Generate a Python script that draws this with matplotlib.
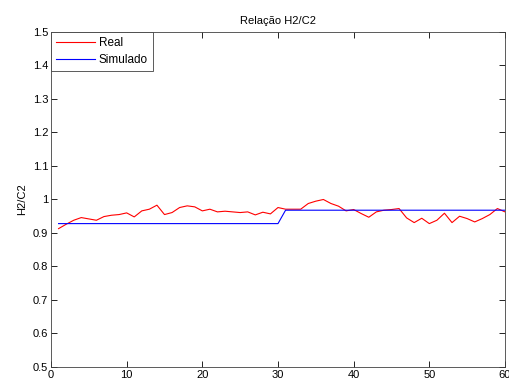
import matplotlib
matplotlib.use("Agg")
import matplotlib.pyplot as plt
import numpy as np

plt.rcParams['font.family'] = ['Liberation Sans', 'DejaVu Sans']

t = np.arange(1, 61)

real = [0.913, 0.926, 0.938, 0.946, 0.942, 0.938, 0.949, 0.953, 0.955, 0.960,
        0.948, 0.966, 0.971, 0.983, 0.955, 0.961, 0.976, 0.981, 0.978, 0.966,
        0.971, 0.963, 0.965, 0.963, 0.961, 0.963, 0.954, 0.962, 0.957, 0.976,
        0.971, 0.971, 0.971, 0.988, 0.995, 1.000, 0.988, 0.980, 0.966, 0.970,
        0.958, 0.947, 0.963, 0.968, 0.970, 0.973, 0.945, 0.931, 0.944, 0.928,
        0.938, 0.959, 0.931, 0.950, 0.943, 0.933, 0.943, 0.955, 0.973, 0.963]

simulado = [0.928] * 30 + [0.968] * 30

fig = plt.figure(figsize=(5.09, 3.79), dpi=100)
ax = fig.add_axes([0.1002, 0.0317, 0.8919, 0.8839])

ax.plot(t, real, color='#ff0000', lw=0.8, label='Real')
ax.plot(t, simulado, color='#0000ff', lw=0.8, label='Simulado')

ax.set_xlim(0, 60)
ax.set_ylim(0.5, 1.5)
ax.set_xticks(np.arange(0, 61, 10))
ax.set_yticks(np.arange(0.5, 1.51, 0.1))
ax.set_yticklabels(['0.5', '0.6', '0.7', '0.8', '0.9', '1', '1.1', '1.2', '1.3', '1.4', '1.5'])
ax.tick_params(direction='in', top=True, right=True, labelsize=8, length=4, width=0.6, pad=2)
for s in ax.spines.values():
    s.set_linewidth(0.6)
    s.set_color('#404040')

ax.set_title('Relação H2/C2', fontsize=8, pad=6)
ax.set_ylabel('H2/C2', fontsize=8, labelpad=4)

leg = ax.legend(loc='upper left', prop={'size': 8.5}, fancybox=False, framealpha=1,
                edgecolor='#404040', borderaxespad=0, handlelength=3.3,
                borderpad=0.4, labelspacing=0.45, handletextpad=0.35)
leg.get_frame().set_linewidth(0.6)

fig.savefig('out.png', dpi=100)
